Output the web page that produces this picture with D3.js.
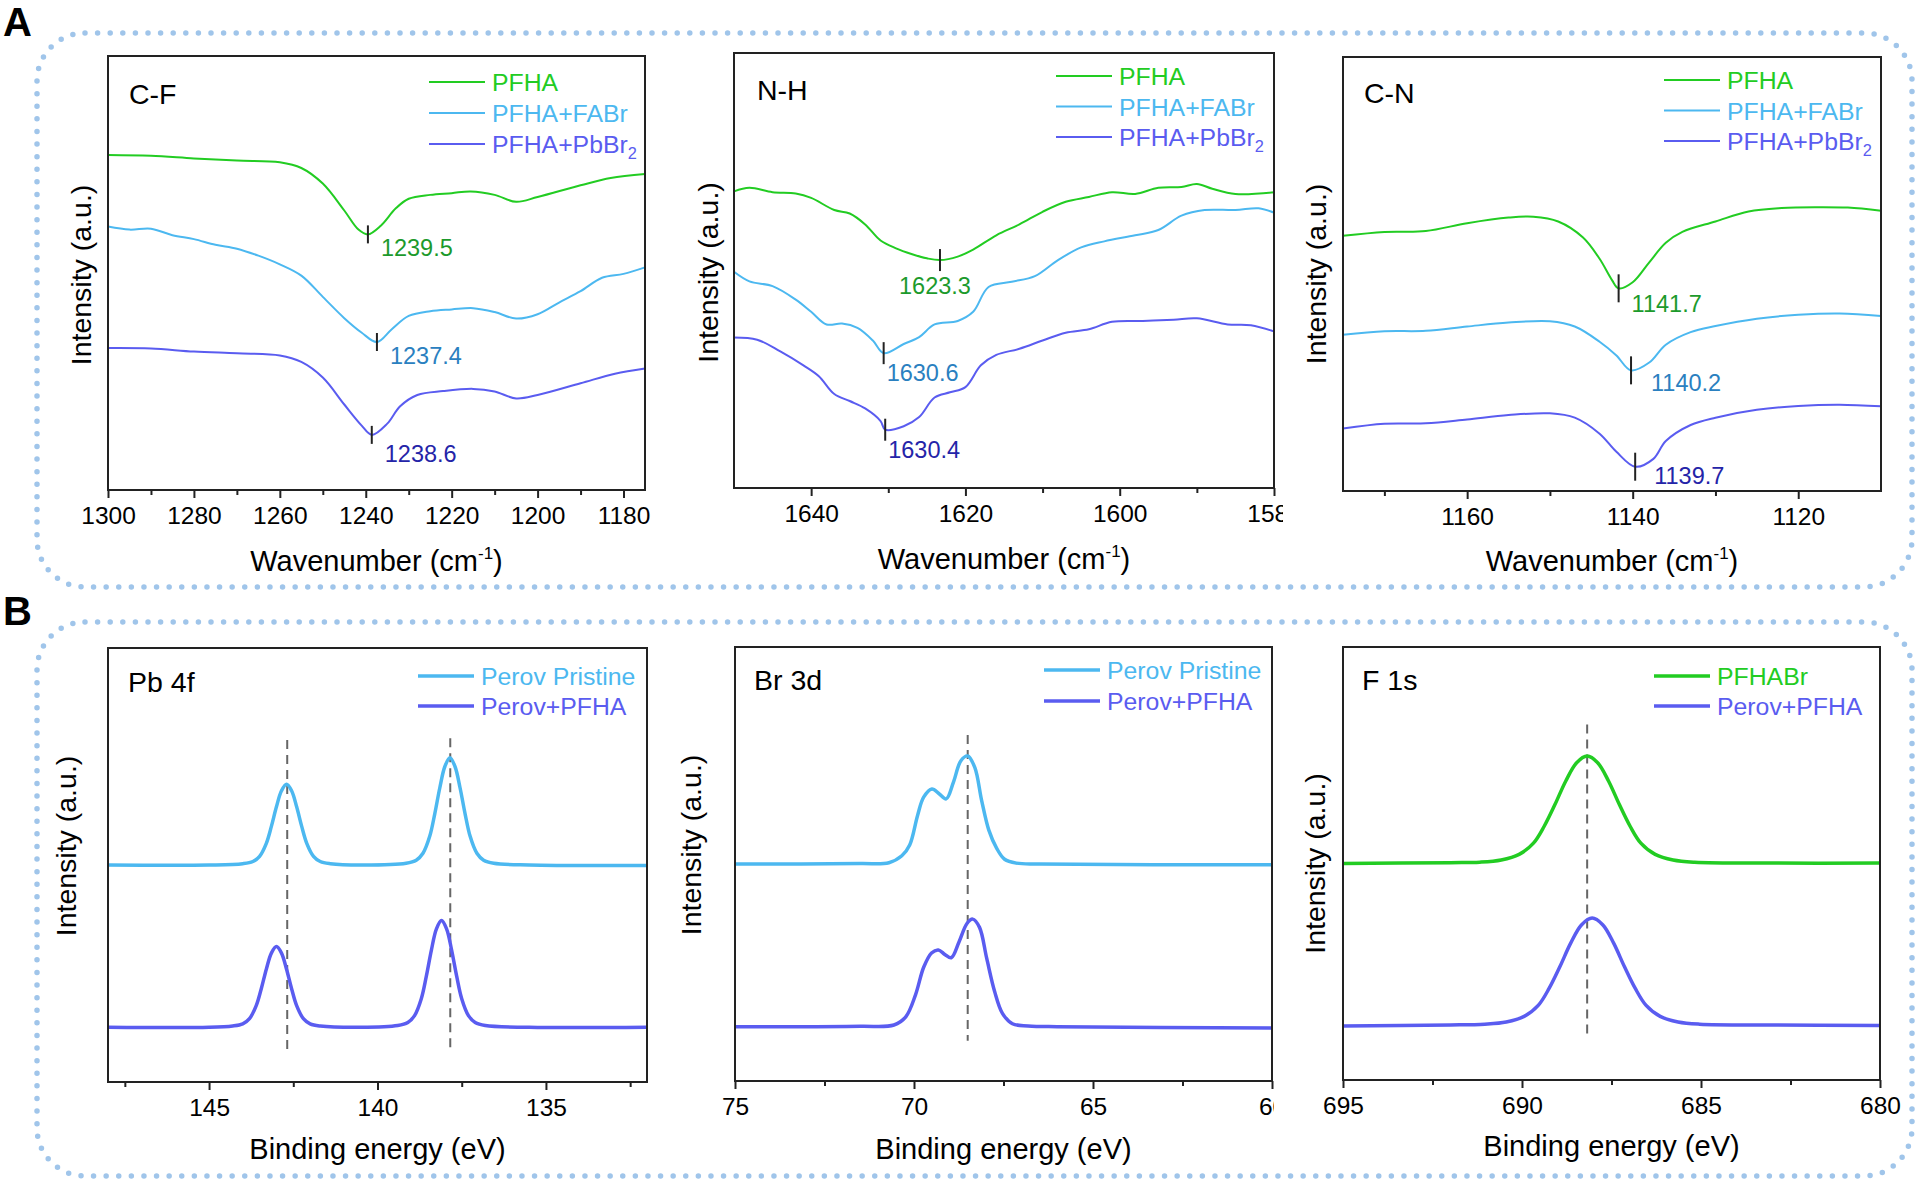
<!DOCTYPE html>
<html>
<head>
<meta charset="utf-8">
<script src="https://cdn.jsdelivr.net/npm/d3@7"></script>
<style>
  body { margin: 0; background: #fff; }
  svg text { font-family: "Liberation Sans", Arial, sans-serif; }
</style>
</head>
<body>
<svg id="fig" width="1920" height="1184"></svg>
<script>
'use strict';

// ---- FTIR data (wavenumber, intensity a.u.) ----
var cfPFHA = [[1300,77.2],[1290,77.0],[1280,76.4],[1270,75.9],[1260,75.5],[1255,74.2],[1250,70.6],[1245,64.4],
  [1241.7,60.0],[1239.5,58.9],[1236.5,60.9],[1233,64.9],[1230,67.1],[1225,68.0],[1220,68.4],[1215.6,68.8],
  [1210,68.0],[1205,66.4],[1200,67.5],[1190,70.2],[1183,71.9],[1175,72.8]];
var cfFABr = [[1300,60.7],[1295,60.0],[1290,60.2],[1285,58.7],[1280,57.8],[1275,56.5],[1270,55.6],[1265,54.0],
  [1260,52.0],[1255,49.4],[1250,44.5],[1245,39.6],[1241,36.3],[1237.4,34.1],[1234,37.0],[1230,40.1],[1225,41.2],
  [1220,41.6],[1215,41.9],[1210,41.0],[1205,39.5],[1200,40.5],[1195,43.2],[1190,45.8],[1185,48.9],[1180,49.8],[1175,51.3]];
var cfPbBr = [[1300,32.7],[1290,32.6],[1280,31.9],[1270,31.5],[1260,31.0],[1255,29.5],[1250,25.9],[1245,19.7],
  [1241,14.9],[1238.6,12.7],[1235,15.3],[1232,19.3],[1228,21.9],[1222,22.8],[1215,23.3],[1210,22.7],[1205,21.1],
  [1200,21.9],[1190,24.6],[1182,26.8],[1175,28.0]];
var cfPeaks = [1239.5, 1237.4, 1238.6];

var nhPFHA = [[1650,68.2],[1648,69.0],[1645,68.0],[1642,67.7],[1640,66.7],[1637,63.9],[1635,63.1],[1633,60.6],
  [1631,56.9],[1629,55.1],[1627,53.8],[1625,52.8],[1623.3,52.4],[1621,53.2],[1619,54.8],[1616,58.1],[1613,60.6],
  [1610,63.5],[1607,65.8],[1604,66.9],[1601,68.0],[1598,67.6],[1595,69.0],[1592,69.2],[1590,69.9],[1588,68.8],
  [1585,67.6],[1580,68.0]];
var nhFABr = [[1650,49.7],[1648,47.5],[1645,46.4],[1642,43.3],[1640,40.5],[1638,37.6],[1636,37.8],[1634,36.8],
  [1632,33.9],[1630.6,31.0],[1628,33.1],[1626,34.7],[1624,37.6],[1621,38.4],[1619,40.5],[1617,46.2],[1614,47.4],
  [1611,48.7],[1608,52.4],[1605,55.3],[1602,56.7],[1598,58.1],[1595,59.3],[1592,62.6],[1589,63.9],[1585,63.9],
  [1582,64.3],[1580,63.3]];
var nhPbBr = [[1650,34.6],[1647,34.1],[1644,31.4],[1641,28.2],[1639,25.7],[1637,21.6],[1635,20.0],[1633,18.3],
  [1631,15.4],[1630.4,13.4],[1628,14.2],[1626,16.3],[1624,20.8],[1622,22.0],[1620,23.2],[1618,28.2],[1616,30.6],
  [1613,32.0],[1610,33.9],[1607,35.7],[1604,36.5],[1601,38.2],[1597,38.4],[1593,38.7],[1590,39.0],[1586,37.6],
  [1583,37.4],[1580,36.0]];
var nhPeaks = [1623.3, 1630.6, 1630.4];

var cnPFHA = [[1175,58.8],[1170,59.7],[1165,59.9],[1160,61.7],[1155,63.0],[1152,63.2],[1149,62.1],[1146,58.4],
  [1144,53.5],[1142.5,48.6],[1141.7,46.7],[1140,48.1],[1138,52.7],[1136,57.2],[1134,59.7],[1130,62.1],[1126,64.4],
  [1122,65.2],[1118,65.4],[1114,65.3],[1110,64.6]];
var cnFABr = [[1175,36.0],[1170,36.8],[1165,36.9],[1160,37.9],[1155,38.8],[1150,39.1],[1147,37.9],[1144,34.4],
  [1142,31.3],[1140.2,27.8],[1138,29.6],[1136,33.7],[1133,36.6],[1130,38.0],[1125,39.7],[1120,40.6],[1115,40.9],[1110,40.3]];
var cnPbBr = [[1175,14.4],[1170,15.5],[1165,15.6],[1160,16.5],[1155,17.5],[1150,17.9],[1147,16.9],[1144,13.2],
  [1142,9.1],[1139.7,5.6],[1137.5,7.4],[1136,11.5],[1133,15.2],[1130,16.9],[1125,18.7],[1120,19.6],[1115,19.9],[1110,19.5]];
var cnPeaks = [1141.7, 1140.2, 1139.7];

// ---- XPS data (binding energy eV, intensity a.u.) ----
var pbPristine = [[148,50.0],[145,50.0],[144.0,50.3],[143.7,50.8],[143.5,52.0],[143.3,55.0],[143.15,58.9],[143.0,63.4],
  [142.85,67.1],[142.7,68.6],[142.55,67.1],[142.4,63.4],[142.25,58.9],[142.1,55.0],[141.9,52.0],[141.7,50.8],[141.4,50.3],
  [140.5,50.0],[139.15,50.4],[138.85,51.1],[138.65,52.7],[138.45,56.6],[138.3,61.8],[138.15,67.8],[138.0,72.7],
  [137.85,74.7],[137.7,72.7],[137.55,67.8],[137.4,61.8],[137.25,56.6],[137.05,52.7],[136.85,51.1],[136.55,50.4],
  [135.5,50.0],[132,49.9]];
var pbPFHA = [[148,12.6],[145,12.6],[144.3,12.9],[144.0,13.4],[143.8,14.6],[143.6,17.6],[143.45,21.5],[143.3,26.0],
  [143.15,29.7],[143.0,31.2],[142.85,29.7],[142.7,26.0],[142.55,21.5],[142.4,17.6],[142.2,14.6],[142.0,13.4],[141.7,12.9],
  [140.5,12.6],[139.4,13.0],[139.1,13.7],[138.9,15.3],[138.7,19.2],[138.55,24.4],[138.4,30.4],[138.25,35.3],[138.1,37.2],
  [137.95,35.3],[137.8,30.4],[137.65,24.4],[137.5,19.2],[137.3,15.3],[137.1,13.7],[136.8,13.0],[135.5,12.6],[132,12.6]];
var pbRefs = [[142.68, 78.8, 6.3], [137.84, 79.2, 7.0]];

var brPristine = [[75,50.0],[71.5,50.1],[70.7,50.3],[70.34,51.9],[70.12,54.4],[69.9,61.2],[69.73,65.4],[69.5,67.3],
  [69.3,66.2],[69.1,65.0],[68.9,68.8],[68.69,73.8],[68.5,74.9],[68.3,72.2],[68.11,64.6],[67.91,57.8],[67.69,53.6],
  [67.47,51.1],[67.14,50.2],[66.5,50.0],[60,49.8]];
var brPFHA = [[75,12.5],[71.5,12.6],[70.56,12.9],[70.23,14.8],[69.96,19.8],[69.73,26.2],[69.51,29.5],[69.32,30.2],
  [69.13,29.1],[68.96,28.4],[68.74,32.1],[68.52,36.3],[68.36,37.3],[68.17,35.4],[67.97,28.3],[67.75,20.7],[67.53,15.6],
  [67.25,13.2],[66.81,12.7],[66,12.5],[60,12.2]];
var brRefs = [[68.5, 79.7, 9.3]];

var fPFHABr = [[695,50.0],[692,50.2],[691.18,50.3],[690.58,50.8],[690.08,52.1],[689.68,54.7],[689.38,58.6],[689.08,63.6],
  [688.78,69.0],[688.48,73.2],[688.18,74.8],[687.88,73.2],[687.58,69.0],[687.28,63.6],[686.98,58.6],[686.68,54.7],
  [686.28,52.1],[685.78,50.8],[685.18,50.3],[683,50.1],[680,50.1]];
var fPFHA = [[695,12.5],[692,12.7],[691.04,12.9],[690.44,13.4],[689.94,14.7],[689.54,17.3],[689.24,21.2],[688.94,26.2],
  [688.64,31.6],[688.34,35.8],[688.04,37.4],[687.74,35.8],[687.44,31.6],[687.14,26.2],[686.84,21.2],[686.54,17.3],
  [686.14,14.7],[685.64,13.4],[685.04,12.9],[683,12.7],[680,12.6]];
var fRefs = [[688.18, 82.1, 10.6]];

// ---- tick labels ----
var cfTicks = [1300, 1280, 1260, 1240, 1220, 1200, 1180], cfMinor = [1290, 1270, 1250, 1230, 1210, 1190];
var nhTicks = [1640, 1620, 1600, 1580], nhMinor = [1630, 1610, 1590];
var cnTicks = [1160, 1140, 1120], cnMinor = [1170, 1150, 1130];
var pbTicks = [145, 140, 135], pbMinor = [147.5, 142.5, 137.5, 132.5];
var brTicks = [75, 70, 65, 60], brMinor = [72.5, 67.5, 62.5];
var fTicks = [695, 690, 685, 680], fMinor = [692.5, 687.5, 682.5];

var ftirNames = ['PFHA', 'PFHA+FABr', 'PFHA+PbBr2'];

// ---- colours ----
var cGreen = '#22cc22', cCyan = '#4cb8f0', cBlue = '#5a5cf0';
var labelColors = ['#1c9a2c', '#2a80c0', '#2424a8'];

var svg = d3.select('#fig');

// dotted frames and panel letters
[[33, 'A', 36], [622, 'B', 625]].forEach(function (f) {
  svg.append('rect')
    .attr('x', 37).attr('y', f[0]).attr('width', 1875).attr('height', 554)
    .attr('rx', 48).attr('ry', 48)
    .attr('fill', 'none').attr('stroke', '#a0c5ea').attr('stroke-width', 5.5)
    .attr('stroke-linecap', 'round').attr('stroke-dasharray', '0 12.6');
  svg.append('text').attr('x', 3).attr('y', f[2])
    .attr('font-size', 40).attr('font-weight', 'bold').attr('fill', '#000').text(f[1]);
});

function interp(data, xv) {
  var s = data.slice().sort(function (a, b) { return a[0] - b[0]; });
  for (var i = 0; i < s.length - 1; i++) {
    if (xv >= s[i][0] && xv <= s[i + 1][0]) {
      var t = (xv - s[i][0]) / (s[i + 1][0] - s[i][0]);
      return s[i][1] + t * (s[i + 1][1] - s[i][1]);
    }
  }
  return s[0][1];
}

function addName(sel, name, size) {
  // "PbBr2" -> subscript 2
  if (/Br2$/.test(name)) {
    sel.append('tspan').text(name.slice(0, -1));
    sel.append('tspan').attr('font-size', size * 0.66).attr('dy', 6).text('2');
  } else {
    sel.text(name);
  }
}

function drawPanel(p) {
  var g = svg.append('g');
  var bottom = p.top + p.h;
  var x = d3.scaleLinear().domain(p.xDomain).range([p.left, p.left + p.w]);
  var y = d3.scaleLinear().domain([0, 100]).range([bottom, p.top]);
  var line = d3.line()
    .x(function (d) { return x(d[0]); })
    .y(function (d) { return y(d[1]); })
    .curve(d3.curveCatmullRom.alpha(0.5));

  // reference dashed lines
  (p.refs || []).forEach(function (r) {
    g.append('line')
      .attr('x1', x(r[0])).attr('x2', x(r[0]))
      .attr('y1', y(r[1])).attr('y2', y(r[2]))
      .attr('stroke', '#666').attr('stroke-width', 2).attr('stroke-dasharray', '9 6');
  });

  p.series.forEach(function (s) {
    g.append('path').datum(s.data)
      .attr('d', line)
      .attr('fill', 'none')
      .attr('stroke', s.color)
      .attr('stroke-width', p.lw)
      .attr('stroke-linejoin', 'round');
  });

  // peak markers + labels
  (p.peaks || []).forEach(function (pk, i) {
    var s = p.series[i];
    var px = x(pk), py = y(interp(s.data, pk));
    g.append('line')
      .attr('x1', px).attr('x2', px)
      .attr('y1', py - p.markLen / 2).attr('y2', py + p.markLen / 2)
      .attr('stroke', '#222').attr('stroke-width', 2);
    var off = p.labelOff[i];
    g.append('text')
      .attr('x', px + off[0]).attr('y', py + off[1])
      .attr('text-anchor', off[2] || 'start')
      .attr('font-size', 23.5).attr('fill', labelColors[p.labelColor[i]])
      .text(d3.format('.1f')(pk));
  });

  // box
  g.append('rect')
    .attr('x', p.left).attr('y', p.top).attr('width', p.w).attr('height', p.h)
    .attr('fill', 'none').attr('stroke', '#222').attr('stroke-width', 2);

  // x axis: major + minor ticks
  var axG = g.append('g').attr('transform', 'translate(0,' + bottom + ')');
  if (p.clipRight) {
    var id = 'clip' + p.id;
    svg.append('clipPath').attr('id', id).append('rect')
      .attr('x', p.left - 60).attr('y', -5).attr('width', p.w + 60 + p.clipRight).attr('height', 60);
    axG.attr('clip-path', 'url(#' + id + ')');
  }
  axG.call(d3.axisBottom(x).tickValues(p.ticks).tickSize(8).tickPadding(9).tickFormat(d3.format('d')))
    .attr('font-family', null).attr('font-size', 24.5);
  axG.select('.domain').remove();
  axG.selectAll('text').attr('fill', '#000');
  axG.selectAll('line').attr('stroke', '#222').attr('stroke-width', 2);

  var minG = g.append('g').attr('transform', 'translate(0,' + bottom + ')')
    .call(d3.axisBottom(x).tickValues(p.minor).tickSize(5).tickFormat(''));
  minG.select('.domain').remove();
  minG.selectAll('line').attr('stroke', '#222').attr('stroke-width', 2);

  // axis titles
  var xt = g.append('text')
    .attr('x', p.left + p.w / 2).attr('y', bottom + p.xTitleOff)
    .attr('text-anchor', 'middle').attr('font-size', 29).attr('fill', '#000');
  if (p.kind === 'ftir') {
    xt.append('tspan').text('Wavenumber (cm');
    xt.append('tspan').attr('font-size', 17).attr('dy', -12).text('-1');
    xt.append('tspan').attr('dy', 12).text(')');
  } else {
    xt.text('Binding energy (eV)');
  }
  g.append('text')
    .attr('transform', 'translate(' + (p.left - p.yTitleOff) + ',' + (p.top + p.h / 2 + p.yTitleShift) + ') rotate(-90)')
    .attr('text-anchor', 'middle').attr('font-size', 28.5).attr('fill', '#000')
    .text('Intensity (a.u.)');

  // panel label
  g.append('text')
    .attr('x', p.left + p.tagPos[0]).attr('y', p.top + p.tagPos[1])
    .attr('font-size', 28.5).attr('fill', '#000').text(p.tag);

  // legend
  p.series.forEach(function (s, i) {
    var ly = p.top + p.legend[1] + i * p.legend[2];
    var lx = p.left + p.legend[0];
    g.append('line')
      .attr('x1', lx).attr('x2', lx + 56).attr('y1', ly).attr('y2', ly)
      .attr('stroke', s.color).attr('stroke-width', p.lw);
    var t = g.append('text')
      .attr('x', lx + 63).attr('y', ly + 9)
      .attr('font-size', 24.8).attr('fill', s.color);
    addName(t, s.name, 24.8);
  });
}

var ftirColors = [cGreen, cCyan, cBlue];
function ftirSeries(arrs) {
  return arrs.map(function (a, i) { return { name: ftirNames[i], data: a, color: ftirColors[i] }; });
}

drawPanel({ id: 'cf', kind: 'ftir', left: 108, top: 56, w: 537, h: 434, xDomain: [1300, 1175],
  ticks: cfTicks, minor: cfMinor, lw: 2, tag: 'C-F', tagPos: [21, 48],
  series: ftirSeries([cfPFHA, cfFABr, cfPbBr]), peaks: cfPeaks, labelColor: [0, 1, 2],
  markLen: 18, labelOff: [[13, 22], [13, 22], [13, 27]],
  legend: [321, 26, 31], xTitleOff: 81, yTitleOff: 17, yTitleShift: 2 });

drawPanel({ id: 'nh', kind: 'ftir', left: 734, top: 53, w: 540, h: 435, xDomain: [1650, 1580],
  ticks: nhTicks, minor: nhMinor, lw: 2, tag: 'N-H', tagPos: [23, 47], clipRight: 9,
  series: ftirSeries([nhPFHA, nhFABr, nhPbBr]), peaks: nhPeaks, labelColor: [0, 1, 2],
  markLen: 22, labelOff: [[-5, 34, 'middle'], [3, 28], [3, 28]],
  legend: [322, 23, 30.5], xTitleOff: 81, yTitleOff: 16, yTitleShift: 2 });

drawPanel({ id: 'cn', kind: 'ftir', left: 1343, top: 57, w: 538, h: 434, xDomain: [1175, 1110],
  ticks: cnTicks, minor: cnMinor, lw: 2, tag: 'C-N', tagPos: [21, 46],
  series: ftirSeries([cnPFHA, cnFABr, cnPbBr]), peaks: cnPeaks, labelColor: [0, 1, 2],
  markLen: 28, labelOff: [[13, 24], [20, 21], [19, 17]],
  legend: [321, 23, 30.5], xTitleOff: 80, yTitleOff: 17, yTitleShift: 0 });

drawPanel({ id: 'pb', kind: 'xps', left: 108, top: 648, w: 539, h: 434, xDomain: [148, 132],
  ticks: pbTicks, minor: pbMinor, lw: 3.5, tag: 'Pb 4f', tagPos: [20, 44],
  series: [{ name: 'Perov Pristine', data: pbPristine, color: cCyan },
           { name: 'Perov+PFHA', data: pbPFHA, color: cBlue }],
  refs: pbRefs, legend: [310, 28, 30], xTitleOff: 77, yTitleOff: 32, yTitleShift: -19 });

drawPanel({ id: 'br', kind: 'xps', left: 735, top: 647, w: 537, h: 434, xDomain: [75, 60],
  ticks: brTicks, minor: brMinor, lw: 3.5, tag: 'Br 3d', tagPos: [19, 43], clipRight: 2,
  series: [{ name: 'Perov Pristine', data: brPristine, color: cCyan },
           { name: 'Perov+PFHA', data: brPFHA, color: cBlue }],
  refs: brRefs, legend: [309, 23, 31], xTitleOff: 78, yTitleOff: 34, yTitleShift: -19 });

drawPanel({ id: 'f', kind: 'xps', left: 1343, top: 647, w: 537, h: 433, xDomain: [695, 680],
  ticks: fTicks, minor: fMinor, lw: 3.5, tag: 'F 1s', tagPos: [19, 43],
  series: [{ name: 'PFHABr', data: fPFHABr, color: cGreen },
           { name: 'Perov+PFHA', data: fPFHA, color: cBlue }],
  refs: fRefs, legend: [311, 29, 30], xTitleOff: 76, yTitleOff: 18, yTitleShift: 0 });
</script>
</body>
</html>
